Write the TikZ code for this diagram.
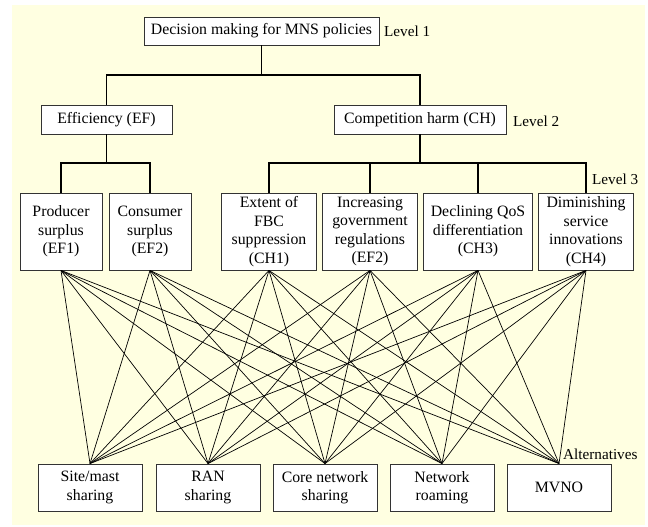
\documentclass[tikz,border=0pt]{standalone}
\usepackage{fontspec}
\setmainfont{Liberation Serif}
\definecolor{bg}{RGB}{255,255,225}
\begin{document}
\begin{tikzpicture}[x=1pt,y=-1pt,
  box/.style={draw=black!80, line width=0.9pt, fill=white, align=center, inner sep=0pt, font=\fontsize{15.8}{18.5}\selectfont},
  lbl/.style={anchor=west, inner sep=0pt, font=\fontsize{15.2}{18}\selectfont},
  tree/.style={line width=1.1pt},
  fan/.style={line width=0.7pt}]
\useasboundingbox (0,0) rectangle (648,527);
\fill[bg] (12,5) rectangle (645,525);
% level 1
\node[box, minimum width=235pt, minimum height=28pt] (top) at (261.5,31) {Decision making for MNS policies};
\node[lbl] (l1) at (384,31) {Level 1};
% level 2
\node[box, minimum width=131pt, minimum height=29pt] (eff) at (106.5,119.5) {Efficiency (EF)};
\node[box, minimum width=172pt, minimum height=29pt] (ch) at (420,119.5) {Competition harm (CH)};
\node[lbl] (l2) at (513,121) {Level 2};
% level 3
\node[box, minimum width=82pt, minimum height=77pt] (p1) at (61,231.5) {Producer\\surplus\\(EF1)};
\node[box, minimum width=82pt, minimum height=77pt] (p2) at (150,231.5) {Consumer\\surplus\\(EF2)};
\node[box, minimum width=95pt, minimum height=77pt] (c1) at (269,231.5) {Extent of\\FBC\\suppression\\(CH1)};
\node[box, minimum width=95pt, minimum height=77pt] (c2) at (370,231.5) {Increasing\\government\\regulations\\(EF2)};
\node[box, minimum width=109pt, minimum height=77pt] (c3) at (478,231.5) {Declining QoS\\differentiation\\(CH3)};
\node[box, minimum width=95pt, minimum height=77pt] (c4) at (586,231.5) {Diminishing\\service\\innovations\\(CH4)};
\node[lbl] (l3) at (592,179) {Level 3};
% alternatives
\node[box, minimum width=104pt, minimum height=47pt] (a1) at (90,487.5) {Site/mast\\sharing};
\node[box, minimum width=104pt, minimum height=47pt] (a2) at (208,487.5) {RAN\\sharing};
\node[box, minimum width=104pt, minimum height=47pt] (a3) at (325,487.5) {Core network\\sharing};
\node[box, minimum width=104pt, minimum height=47pt] (a4) at (442,487.5) {Network\\roaming};
\node[box, minimum width=104pt, minimum height=47pt] (a5) at (559,487.5) {MVNO};
\node[lbl] (l4) at (563,454) {Alternatives};
% tree connectors
\coordinate (j1) at (261.5,75);
\coordinate (j2) at (106,163);
\coordinate (j3) at (420,163);
\draw[tree] (top.south) -- (top.south |- j1);
\draw[tree] (eff.north) |- (ch.north |- j1) -- (ch.north);
\draw[tree] (eff.south) -- (eff.south |- j2);
\draw[tree] (p1.north) |- (p2.north |- j2) -- (p2.north);
\draw[tree] (ch.south) -- (ch.south |- j3);
\draw[tree] (c1.north) |- (c4.north |- j3) -- (c4.north);
\draw[tree] (c2.north) -- (c2.north |- j3);
\draw[tree] (c3.north) -- (c3.north |- j3);
% fan
\foreach \a in {p1,p2,c1,c2,c3,c4}
  \foreach \b in {a1,a2,a3,a4,a5}
    \draw[fan] (\a.south) -- (\b.north);
\end{tikzpicture}
\end{document}
